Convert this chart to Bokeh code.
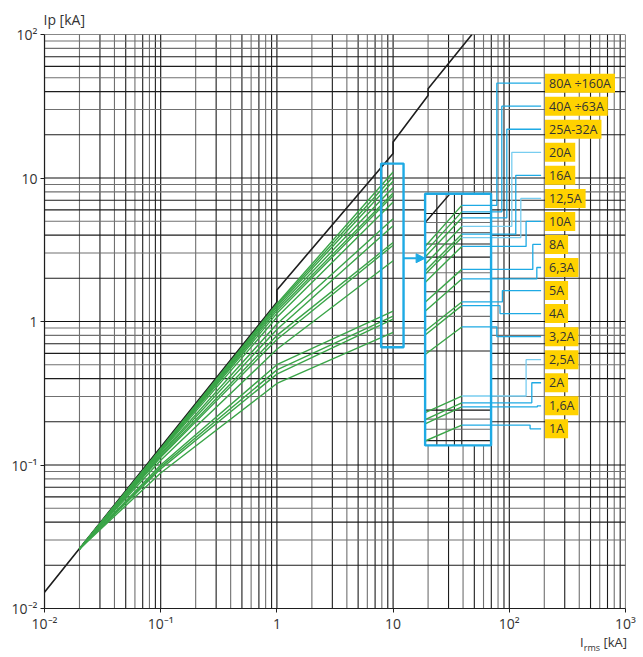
import numpy as np
from bokeh.plotting import figure
from bokeh.models import Label, Arrow, NormalHead, FixedTicker, Div
from bokeh.layouts import column
from bokeh.embed import file_html
from bokeh.resources import INLINE

# ---------------- data ----------------
X_TICKS = [0.01, 0.1, 1, 10, 100, 1000]
X_TICK_LABELS = ["10⁻²", "10⁻¹", "1", "10", "10²", "10³"]
Y_TICKS = [0.01, 0.1, 1, 10, 100]
Y_TICK_LABELS = ["10⁻²", "10⁻¹", "1", "10", "10²"]

# prospective peak current (black line)
LIMIT_IRMS = [0.01, 1, 1, 10, 10, 20, 20, 47.7]
LIMIT_IP = [0.013, 1.36, 1.66, 14.8, 17.8, 37.6, 41.9, 100]

RATINGS = ["80A ÷160A", "40A ÷63A", "25A-32A", "20A", "16A", "12,5A", "10A", "8A",
           "6,3A", "5A", "4A", "3,2A", "2,5A", "2A", "1,6A", "1A"]
CURVE_IRMS = [0.02, 0.1, 1, 10]
IP_AT_START = [0.026, 0.026, 0.026, 0.026, 0.026, 0.026, 0.026, 0.026,
               0.026, 0.026, 0.026, 0.026, 0.026, 0.026, 0.026, 0.026]
IP_AT_01 = [0.130, 0.129, 0.128, 0.127, 0.126, 0.125, 0.123, 0.120,
            0.118, 0.115, 0.113, 0.108, 0.100, 0.097, 0.094, 0.088]
IP_AT_1 = [1.33, 1.30, 1.27, 1.23, 1.19, 1.14, 1.07, 0.96,
           0.88, 0.80, 0.75, 0.64, 0.50, 0.46, 0.43, 0.37]
IP_AT_10 = [11.0, 10.2, 9.5, 8.6, 7.85, 7.55, 6.8, 5.2,
            4.65, 3.55, 3.4, 2.65, 1.18, 1.09, 1.04, 0.84]

# detail window on the chart, the range it magnifies, and where the magnified view sits
MARK_X = (7.89, 12.3)
MARK_Y = (0.662, 12.6)
ZOOM_SRC_X = (5.92, 15.2)
ZOOM_SRC_Y = (0.662, 12.6)
ZOOM_DST_X = (18.86, 69.7)
ZOOM_DST_Y = (0.137, 7.76)
ARROW_Y = 2.76
LEADER_ELBOW = [78.1, 86.2, 95.2, 105.1, 113.7, 125.6, 139.5, 159.3,
                172.5, 87.2, 83.2, 78.1, 139.5, 156.2, 174.5, 151.0]
LEADER_LIGHT = [False, False, False, True, False, True, False, False,
                False, False, False, False, True, False, False, False]
LEADER_END_X = 187.8
LABEL_X = 203.0
LABEL_LOG_Y = (1.661, -0.748)

# ---------------- styles ----------------
GREEN = "#3aa548"
BLACK = "#1e1e1e"
BLUE = "#1eaae4"
BLUE_LIGHT = "#78cdf0"
YELLOW = "#ffd200"
DARK_GRID = "#1c1c1c"
GRAY_GRID = "#707070"
FONT = "Open Sans"
TEXT = "#333333"

grid_color_x = {1: "#111111", 2: GRAY_GRID, 3: DARK_GRID, 4: GRAY_GRID, 5: DARK_GRID,
                6: GRAY_GRID, 7: DARK_GRID, 8: GRAY_GRID, 9: DARK_GRID}
grid_color_y = {1: "#111111", 2: DARK_GRID, 3: GRAY_GRID, 4: DARK_GRID, 5: GRAY_GRID,
                6: DARK_GRID, 7: DARK_GRID, 8: GRAY_GRID, 9: GRAY_GRID}

p = figure(x_axis_type="log", y_axis_type="log",
           x_range=(X_TICKS[0], X_TICKS[-1]), y_range=(Y_TICKS[0], Y_TICKS[-1]),
           frame_width=581, frame_height=574,
           min_border_left=44, min_border_right=14, min_border_top=34, min_border_bottom=24,
           output_backend="svg", toolbar_location=None)
p.xgrid.visible = False
p.ygrid.visible = False
p.outline_line_color = None
p.background_fill_color = "white"
p.border_fill_color = "white"

p.title.text = "Ip [kA]"
p.title.align = "left"
p.title.text_font = FONT
p.title.text_font_size = "14px"
p.title.text_font_style = "normal"
p.title.text_color = TEXT
p.title.standoff = 12
p.title.offset = -1

# ---------------- grid lines ----------------
def grid_values(lo, hi):
    vals = []
    for k in range(int(np.floor(np.log10(lo))), int(np.ceil(np.log10(hi))) + 1):
        for m in range(1, 10):
            v = m * 10.0 ** k
            if lo * 0.999 <= v <= hi * 1.001:
                vals.append((v, m))
    return vals

gx = grid_values(X_TICKS[0], X_TICKS[-1])
gy = grid_values(Y_TICKS[0], Y_TICKS[-1])
p.segment(x0=[v for v, m in gx], x1=[v for v, m in gx],
          y0=[Y_TICKS[0]] * len(gx), y1=[Y_TICKS[-1]] * len(gx),
          line_color=[grid_color_x[m] for v, m in gx], line_width=1.1)
p.segment(y0=[v for v, m in gy], y1=[v for v, m in gy],
          x0=[X_TICKS[0]] * len(gy), x1=[X_TICKS[-1]] * len(gy),
          line_color=[grid_color_y[m] for v, m in gy], line_width=1.1)

# ---------------- curves ----------------
p.line(LIMIT_IRMS, LIMIT_IP, line_color=BLACK, line_width=1.6)

curves_x = [CURVE_IRMS for _ in RATINGS]
curves_y = [list(v) for v in zip(IP_AT_START, IP_AT_01, IP_AT_1, IP_AT_10)]
p.multi_line(curves_x, curves_y, line_color=GREEN, line_width=1.4)

# ---------------- magnified inset ----------------
lsx = np.log10(ZOOM_SRC_X); lsy = np.log10(ZOOM_SRC_Y)
ldx = np.log10(ZOOM_DST_X); ldy = np.log10(ZOOM_DST_Y)

def tfx(x):
    return float(10 ** (ldx[0] + (np.log10(x) - lsx[0]) * (ldx[1] - ldx[0]) / (lsx[1] - lsx[0])))

def tfy(y):
    return float(10 ** (ldy[0] + (np.log10(y) - lsy[0]) * (ldy[1] - ldy[0]) / (lsy[1] - lsy[0])))

p.quad(left=[ZOOM_DST_X[0]], right=[ZOOM_DST_X[1]], bottom=[ZOOM_DST_Y[0]], top=[ZOOM_DST_Y[1]],
       fill_color="white", line_color=None)

ixg = [(v, m) for v, m in grid_values(1, 100) if ZOOM_SRC_X[0] * 1.02 < v < ZOOM_SRC_X[1]]
iyg = [(v, m) for v, m in grid_values(0.1, 100) if ZOOM_SRC_Y[0] < v < ZOOM_SRC_Y[1]]
p.segment(x0=[tfx(v) for v, m in ixg], x1=[tfx(v) for v, m in ixg],
          y0=[ZOOM_DST_Y[0]] * len(ixg), y1=[ZOOM_DST_Y[1]] * len(ixg),
          line_color=[grid_color_x[m] for v, m in ixg], line_width=1.1)
p.segment(y0=[tfy(v) for v, m in iyg], y1=[tfy(v) for v, m in iyg],
          x0=[ZOOM_DST_X[0]] * len(iyg), x1=[ZOOM_DST_X[1]] * len(iyg),
          line_color=[grid_color_y[m] for v, m in iyg], line_width=1.1)

# black line inside window
bx, by = [], []
for i in range(len(LIMIT_IRMS) - 1):
    t = np.linspace(0, 1, 300)
    lx = np.log10(LIMIT_IRMS[i]) + t * (np.log10(LIMIT_IRMS[i + 1]) - np.log10(LIMIT_IRMS[i]))
    ly = np.log10(LIMIT_IP[i]) + t * (np.log10(LIMIT_IP[i + 1]) - np.log10(LIMIT_IP[i]))
    keep = (lx >= lsx[0]) & (lx <= lsx[1]) & (ly >= lsy[0]) & (ly <= lsy[1])
    bx += list(10 ** lx[keep]); by += list(10 ** ly[keep])
if bx:
    p.line([tfx(v) for v in bx], [tfy(v) for v in by], line_color=BLACK, line_width=1.4)

# green segments inside window
seg_x, seg_y, end_y = [], [], []
l1, l10 = np.log10(CURVE_IRMS[2]), np.log10(CURVE_IRMS[3])
for a1, a10 in zip(IP_AT_1, IP_AT_10):
    ya = np.log10(a1) + (lsx[0] - l1) * (np.log10(a10) - np.log10(a1)) / (l10 - l1)
    seg_x.append([tfx(ZOOM_SRC_X[0]), tfx(CURVE_IRMS[3])])
    seg_y.append([tfy(10 ** ya), tfy(a10)])
    end_y.append(tfy(a10))
p.multi_line(seg_x, seg_y, line_color=GREEN, line_width=1.4)

# leaders and labels
label_y = [float(v) for v in 10 ** np.linspace(LABEL_LOG_Y[0], LABEL_LOG_Y[1], len(RATINGS))]
lead_x, lead_y, lead_c = [], [], []
for ey, ly, ex, light in zip(end_y, label_y, LEADER_ELBOW, LEADER_LIGHT):
    lead_x.append([tfx(CURVE_IRMS[3]), ex, ex, LEADER_END_X])
    lead_y.append([ey, ey, ly, ly])
    lead_c.append(BLUE_LIGHT if light else BLUE)
p.multi_line(lead_x, lead_y, line_color=lead_c, line_width=1.3)

# window frames and arrow
p.quad(left=[MARK_X[0], ZOOM_DST_X[0]], right=[MARK_X[1], ZOOM_DST_X[1]],
       bottom=[MARK_Y[0], ZOOM_DST_Y[0]], top=[MARK_Y[1], ZOOM_DST_Y[1]],
       fill_color=None, line_color=BLUE, line_width=2.4)
p.add_layout(Arrow(end=NormalHead(size=9, fill_color=BLUE, line_color=BLUE),
                   x_start=MARK_X[1], y_start=ARROW_Y, x_end=ZOOM_DST_X[0], y_end=ARROW_Y,
                   line_color=BLUE, line_width=2))

for txt, ly in zip(RATINGS, label_y):
    p.add_layout(Label(x=LABEL_X, y=ly, text=txt, text_font=FONT, text_font_size="12.5px",
                       text_color=TEXT, text_baseline="middle", text_align="left",
                       background_fill_color=YELLOW,
                       padding=dict(left=4, right=4, top=1, bottom=1)))

# ---------------- axes ----------------
for ax, ticks, labels in ((p.xaxis, X_TICKS, X_TICK_LABELS), (p.yaxis, Y_TICKS, Y_TICK_LABELS)):
    ax.ticker = FixedTicker(ticks=ticks)
    ax.major_label_overrides = {t: l for t, l in zip(ticks, labels)}
    ax.minor_tick_line_color = None
    ax.major_tick_in = 0
    ax.major_tick_out = 4
    ax.major_tick_line_color = BLACK
    ax.axis_line_color = BLACK
    ax.axis_line_width = 1.2
    ax.major_label_text_font = FONT
    ax.major_label_text_font_size = "14px"
    ax.major_label_text_color = TEXT
p.xaxis.major_label_standoff = 1
p.yaxis.major_label_standoff = 3

xlabel = Div(text='I<sub style="font-size:9px;line-height:9px">rms</sub> [kA]', width=627, height=20,
             margin=(0, 0, 0, 0),
             styles={"font-family": FONT, "font-size": "13px", "color": TEXT,
                     "text-align": "right", "line-height": "15px"})

layout = column(p, xlabel, spacing=0)
open("out.html", "w").write(file_html(layout, INLINE))
